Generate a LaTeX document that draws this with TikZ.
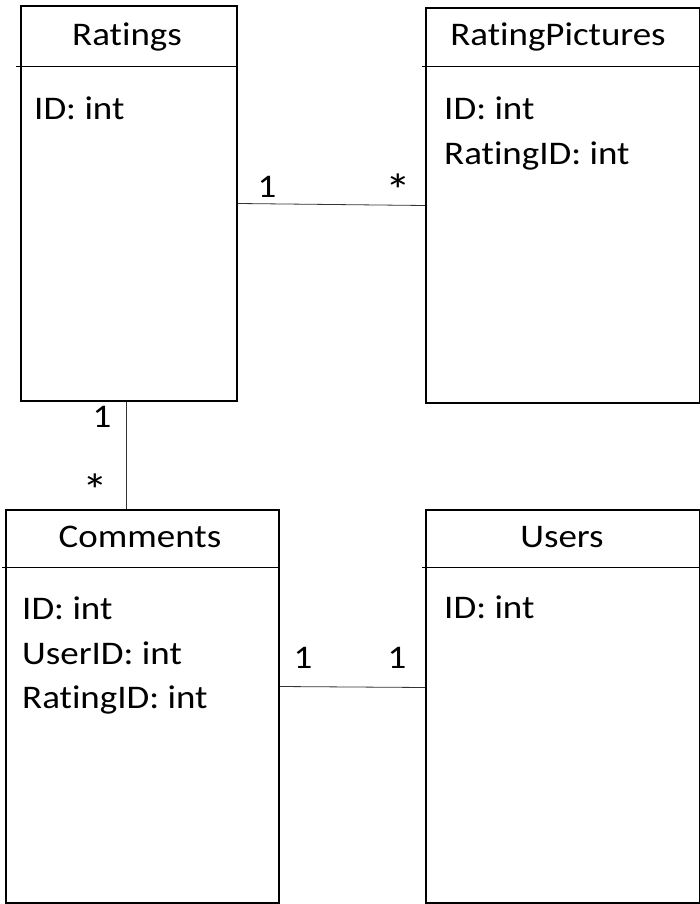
\documentclass[tikz,border=0pt]{standalone}
\usepackage{fontspec}
\setmainfont{Carlito}[FakeStretch=1.12,Ligatures=NoCommon]
\tikzset{entity/.style = {shape=rectangle,draw,line width=2pt,inner sep=0pt,anchor=north west}}
\tikzset{divider/.style = {line width=1pt}}
\tikzset{link/.style = {line width=0.8pt,draw=black!80}}
\tikzset{field/.style = {anchor=base west,inner sep=0pt}}
\tikzset{title/.style = {anchor=base,inner sep=0pt}}
\tikzset{mult/.style = {inner sep=0pt}}
\tikzset{many/.style = {inner sep=0pt,font=\fontsize{46}{50}\selectfont}}

\begin{document}
\begin{tikzpicture}[x=1pt,y=-1pt,font=\fontsize{33}{40}\selectfont]
  \useasboundingbox (0,0) rectangle (700,904);

  % tables
  \node[entity,minimum width=216pt,minimum height=395pt] (ratings) at (20,5) {};
  \node[entity,minimum width=274pt,minimum height=395pt] (pictures) at (425,7) {};
  \node[entity,minimum width=273pt,minimum height=393pt] (comments) at (5,509) {};
  \node[entity,minimum width=274pt,minimum height=393pt] (users) at (425,509) {};

  \draw[divider] ([xshift=-4pt,yshift=-61.5pt]ratings.north west) -- ([yshift=-61.5pt]ratings.north east);
  \draw[divider] ([xshift=-3pt,yshift=-59.5pt]pictures.north west) -- ([yshift=-59.5pt]pictures.north east);
  \draw[divider] ([xshift=-3pt,yshift=-58.5pt]comments.north west) -- ([yshift=-58.5pt]comments.north east);
  \draw[divider] ([xshift=-3pt,yshift=-58pt]users.north west) -- ([yshift=-58pt]users.north east);

  \node[title] (ratingsname) at (127,46) {Ratings};
  \node[title] (picturesname) at (558,46) {RatingPictures};
  \node[title] (commentsname) at (140,547) {Comments};
  \node[title] (usersname) at (562,547) {Users};

  \node[field] (r1) at (34,120) {ID: int};
  \node[field] (p1) at (444,120) {ID: int};
  \node[field] (p2) at (444,165) {RatingID: int};
  \node[field] (c1) at (22,619) {ID: int};
  \node[field] (c2) at (22,664) {UserID: int};
  \node[field] (c3) at (22,708) {RatingID: int};
  \node[field] (u1) at (444,618) {ID: int};

  % relations
  \draw[link] (ratings.east) -- (pictures.west);
  \draw[link] ([xshift=-3pt]ratings.south) -- ([xshift=-3pt]ratings.south |- comments.north);
  \draw[link] ([yshift=20pt]comments.east) -- ([yshift=19pt]users.west);

  \node[mult] (m1) at (267,187) {1};
  \node[many] (m2) at (398,190) {*};
  \node[mult] (m3) at (102,417) {1};
  \node[many] (m4) at (95,490) {*};
  \node[mult] (m5) at (303,658) {1};
  \node[mult] (m6) at (397,658) {1};
\end{tikzpicture}
\end{document}
